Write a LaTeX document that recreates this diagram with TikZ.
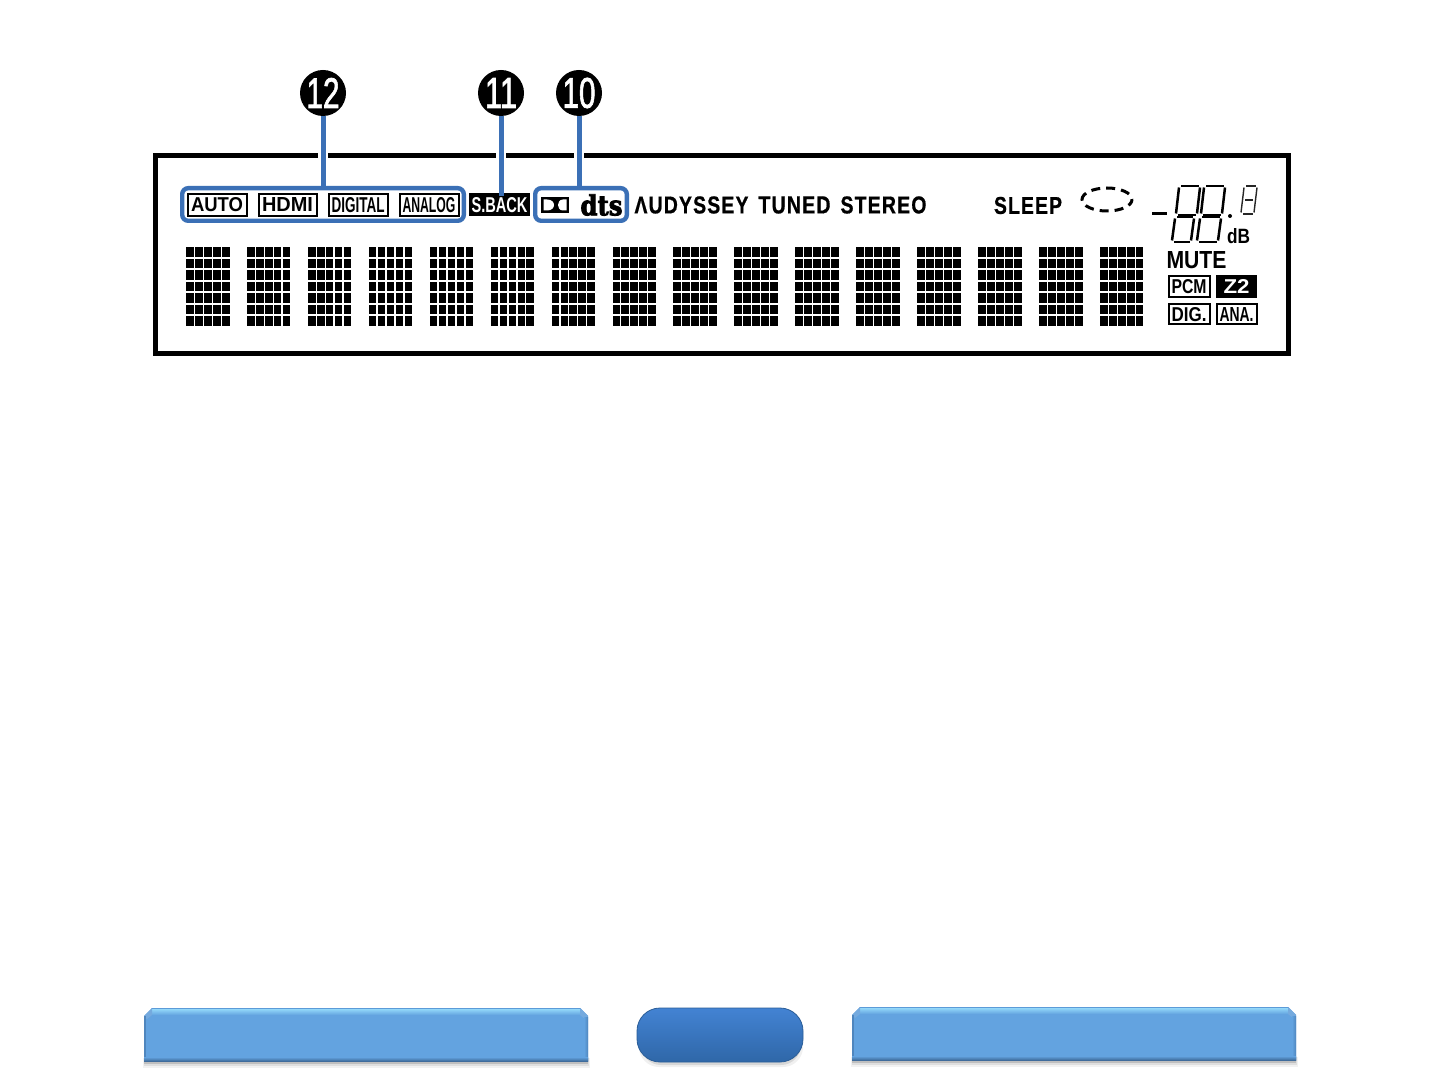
\documentclass[tikz,border=0pt]{standalone}
\usepackage{fontspec}
\usepackage{graphicx}
\setmainfont{Liberation Sans}
\newfontfamily\lcdwide[LetterSpace=6,BoldFeatures={FakeBold=0.8}]{Liberation Sans}
\newfontfamily\dtsfont[BoldFeatures={FakeBold=3}]{DejaVu Serif}
\newfontfamily\callfont[FakeBold=1.8]{Liberation Sans}
\usetikzlibrary{calc}
\definecolor{callblue}{HTML}{3B70B6}
\definecolor{barface}{HTML}{63A3E0}
\definecolor{barhi}{HTML}{8FD3F7}
\definecolor{bartop}{HTML}{5C9BD8}
\definecolor{barside}{HTML}{4F86BE}
\definecolor{bardark}{HTML}{3F6C9C}
\definecolor{pilltop}{HTML}{4383D3}
\definecolor{pillbot}{HTML}{2F67A8}
\tikzset{
  x=0.5pt,y=-0.5pt,
  lbl/.style={inner sep=0pt,outer sep=0pt,text=black},
  lit/.style={draw=black,line width=1pt,fill=white,inner sep=0pt,outer sep=0pt,minimum width=#1},
  inv/.style={fill=black,text=white,inner sep=0pt,outer sep=0pt,minimum width=#1},
  group/.style={draw=callblue,line width=2.2pt,rounded corners=3pt,inner sep=0pt,outer sep=0pt,minimum width=#1,minimum height=16.3pt},
  callnum/.style={circle,fill=black,text=white,inner sep=0pt,outer sep=0pt,minimum size=23pt},
  callline/.style={draw=callblue,line width=2.5pt},
  halo/.style={draw=white,line width=5pt},
  cell/.style={fill=black},
  seg/.style={draw=black,line width=1.25pt},
  segthin/.style={draw=black!85,line width=.7pt},
}
\newcommand{\digitseg}[6]{% x y w h slant style
  \draw[#6] ({#1+#5+2},#2) -- ({#1+#5+#3-1},#2);
  \draw[#6] ({#1+#5},{#2+1.5}) -- (#1,{#2+#4-1.5});
  \draw[#6] ({#1+#5+#3},{#2+1.5}) -- ({#1+#3},{#2+#4-1.5});
  \draw[#6] ({#1+2},{#2+#4}) -- ({#1+#3-1},{#2+#4});
}
\newcommand{\bevelbar}[4]{% L T R B
  \fill[black,opacity=.05] ({#1-1},{#4-3}) rectangle ({#3+2},{#4+7});
  \fill[black,opacity=.08] (#1,{#4-3}) rectangle ({#3+1},{#4+5});
  \fill[black,opacity=.14] (#1,{#4-3}) rectangle (#3,{#4+3});
  \fill[barface] (#1,{#2+8}) -- ({#1+8},#2) -- ({#3-8},#2) -- (#3,{#2+8}) -- (#3,#4) -- (#1,#4) -- cycle;
  \fill[bartop] ({#1+8},#2) -- ({#3-8},#2) -- ({#3-7},{#2+1.5}) -- ({#1+7},{#2+1.5}) -- cycle;
  \shade[top color=barhi,bottom color=barface] ({#1+8},{#2+1.5}) rectangle ({#3-8},{#2+7});
  \fill[bartop!85!white] (#1,{#2+8}) -- ({#1+8},#2) -- ({#1+8},{#2+7}) -- ({#1+3},{#2+11}) -- cycle;
  \fill[bartop!85!white] (#3,{#2+8}) -- ({#3-8},#2) -- ({#3-8},{#2+7}) -- ({#3-3},{#2+11}) -- cycle;
  \fill[barside] (#1,{#2+8}) rectangle ({#1+1.5},#4);
  \shade[left color=barface,right color=barside] ({#3-4},{#2+9}) rectangle (#3,#4);
  \shade[top color=barface,bottom color=bardark] (#1,{#4-4}) rectangle (#3,#4);
}
\begin{document}
\begin{tikzpicture}
\useasboundingbox (0,0) rectangle (1440,1080);
\fill[white] (0,0) rectangle (1440,1080);
% display frame
\node[draw=black,line width=2.5pt,inner sep=0pt,outer sep=0pt,minimum width=566.5pt,minimum height=99pt] (frame) at (721.5,254.5) {};
% dot matrix
\foreach \m in {0,...,15}{
  \foreach \c in {0,...,4}{
    \foreach \r in {0,...,6}{
      \fill[cell] ({186+60.93*\m+8.95*\c},{247+11.55*\r}) rectangle ({186+60.93*\m+8.95*\c+7.7},{247+11.55*\r+9.7});
    }
  }
}
% top labels
\node[lit=29.5pt,minimum height=11pt] (auto) at (217,205) {\resizebox{26pt}{7pt}{\bfseries AUTO}};
\node[lit=29pt,minimum height=11pt] (hdmi) at (287.5,205) {\resizebox{25.5pt}{7pt}{\bfseries HDMI}};
\node[lit=29.5pt,minimum height=11pt] (digital) at (358,205) {\resizebox{26.5pt}{7.5pt}{\bfseries DIGITAL}};
\node[lit=29.5pt,minimum height=11pt] (analog) at (429,205) {\resizebox{26.5pt}{7.5pt}{\bfseries ANALOG}};
\node[inv=30.5pt,minimum height=11.5pt] (sback) at (499.5,205) {\resizebox{28pt}{7.5pt}{\bfseries S.BACK}};
\node[group=140.8pt] (g12) at (323,204.5) {};
\node[group=45.8pt] (g10) at (581,204.5) {};
% dolby and dts
\node[fill=black,inner sep=0pt,outer sep=0pt,minimum width=14pt,minimum height=8pt] (dolby) at (555,205) {};
\fill[white] (543.5,199.5) -- (547,199.5) .. controls (552,199.5) and (554,202.5) .. (554,205) .. controls (554,207.5) and (552,210.5) .. (547,210.5) -- (543.5,210.5) -- cycle;
\fill[white] (566.5,199.5) -- (563,199.5) .. controls (559.5,199.5) and (558,202.5) .. (558,205) .. controls (558,207.5) and (559.5,210.5) .. (563,210.5) -- (566.5,210.5) -- cycle;
\node[lbl] (dts) at (601.5,205) {\resizebox{21pt}{10.5pt}{\dtsfont\bfseries dts}};
% words
\node[lbl] (aud) at (691.5,205) {\resizebox{57pt}{8.5pt}{\lcdwide\bfseries ΛUDYSSEY}};
\node[lbl] (tuned) at (794.5,205) {\resizebox{36pt}{8.5pt}{\lcdwide\bfseries TUNED}};
\node[lbl] (stereo) at (883.5,205) {\resizebox{43pt}{8.5pt}{\lcdwide\bfseries STEREO}};
\node[lbl] (sleep) at (1028,205.5) {\resizebox{34pt}{8.5pt}{\lcdwide\bfseries SLEEP}};
\node[lbl] (mute) at (1196.5,260) {\resizebox{30pt}{8.5pt}{\bfseries MUTE}};
\node[lbl] (db) at (1238.5,236) {\resizebox{11.5pt}{7.5pt}{\bfseries dB}};
% ring
\draw[draw=black,line width=1.5pt,dash pattern=on 4.5pt off 3pt,dash phase=1pt] (1107,199.5) ellipse [x radius=25,y radius=11.5];
% seven segment digits
\digitseg{1176}{186}{21}{29}{3}{seg}
\digitseg{1201}{186}{21}{29}{3}{seg}
\digitseg{1172}{217}{19}{25}{3}{seg}
\digitseg{1197}{217}{21}{25}{3}{seg}
\digitseg{1241}{186}{13}{28}{3}{segthin}
\draw[segthin] (1245,200) -- (1253,200);
\draw[black,line width=1.5pt] (1152,213.5) -- (1167,213.5);
\fill[black] (1230,216) circle [radius=2];
% small indicators
\node[lit=20.5pt,minimum height=10.5pt] (pcm) at (1189,287) {\resizebox{17.5pt}{7pt}{\bfseries PCM}};
\node[inv=20.5pt,minimum height=11.5pt] (ztwo) at (1236.5,286.5) {\resizebox{13pt}{7pt}{\bfseries Z2}};
\node[lit=20.5pt,minimum height=10pt] (dig) at (1189,314.5) {\resizebox{17.5pt}{7pt}{\bfseries DIG.}};
\node[lit=20pt,minimum height=10pt] (ana) at (1236.5,314.5) {\resizebox{17pt}{7pt}{\bfseries ANA.}};
% callouts
\node[callnum] (c12) at (323,93) {\resizebox{16.5pt}{15pt}{\callfont 12}};
\node[callnum] (c11) at (501,93) {\resizebox{16pt}{15pt}{\callfont 11}};
\node[callnum] (c10) at (579,93) {\resizebox{16.5pt}{15pt}{\callfont 10}};
\draw[halo] (323,153) -- (323,158);
\draw[halo] (501,153) -- (501,158);
\draw[halo] (579,153) -- (579,158);
\draw[callline] (c12.south) -- (g12.north);
\draw[callline] (c11.south) -- (c11.south |- sback.north) -- ++(0,3);
\draw[callline] (c10.south) -- (c10.south |- g10.north);
% bottom bars
\bevelbar{144}{1008}{588}{1061}
\bevelbar{852}{1007}{1296}{1060}
\fill[black,opacity=.06,rounded corners=10pt] (639,1030) rectangle (803,1067);
\fill[black,opacity=.10,rounded corners=10pt] (641,1030) rectangle (801,1065);
\node[rounded corners=11.5pt,top color=pilltop,bottom color=pillbot,draw=pillbot!90!black,line width=.4pt,inner sep=0pt,outer sep=0pt,minimum width=83pt,minimum height=27pt] (pill) at (720,1035) {};
\end{tikzpicture}
\end{document}
